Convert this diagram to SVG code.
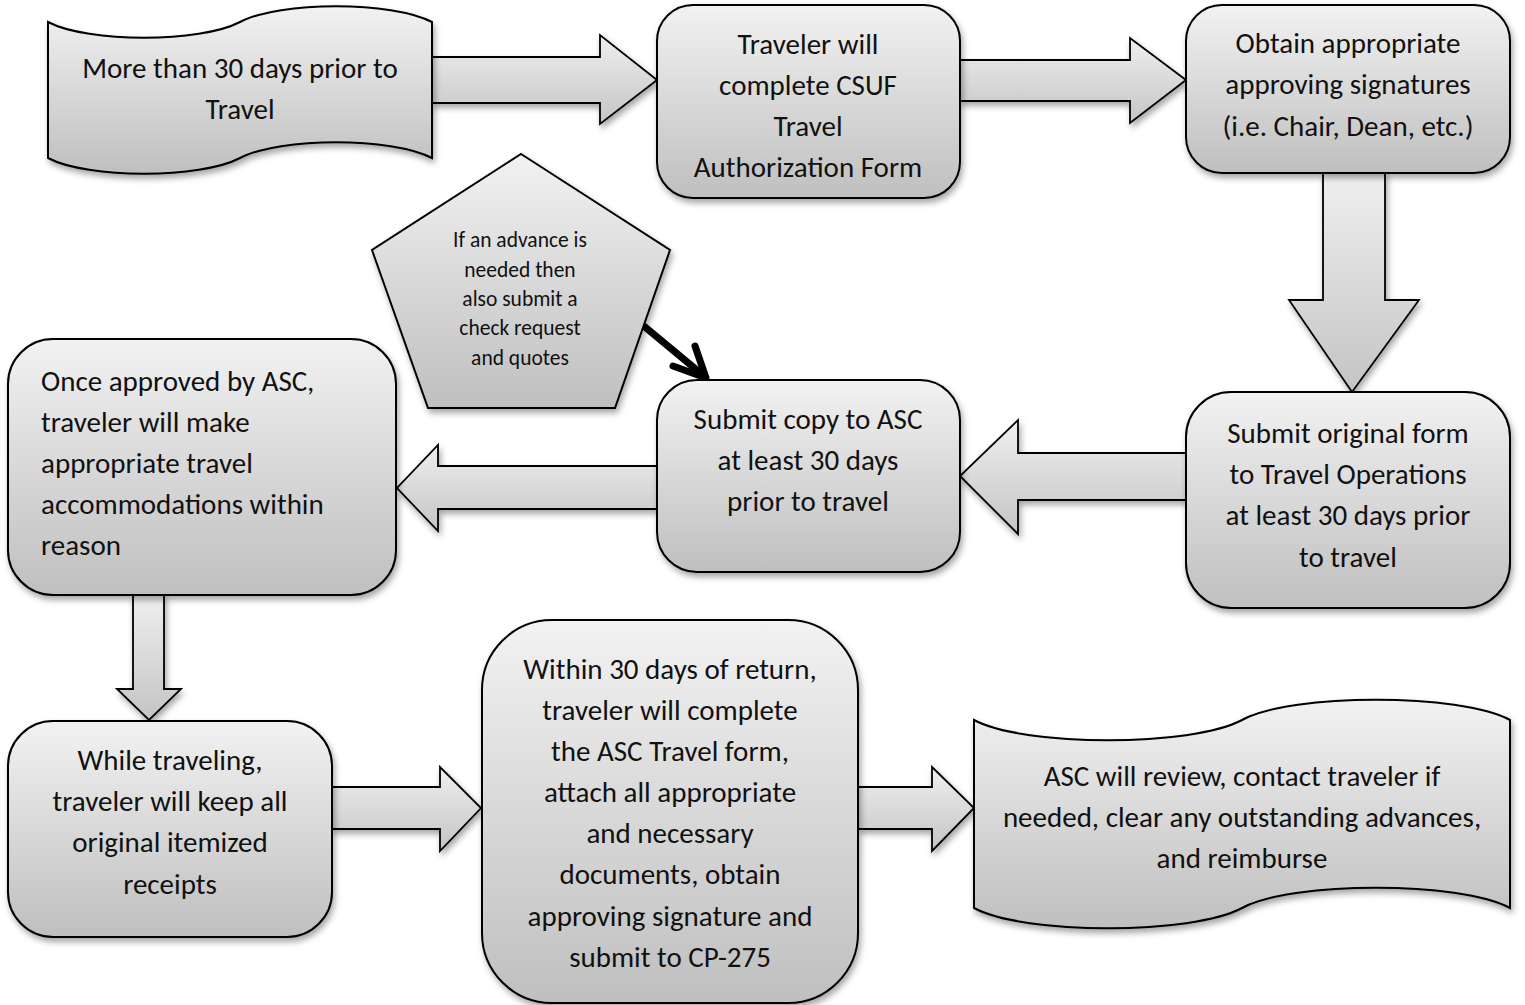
<svg xmlns="http://www.w3.org/2000/svg" width="1525" height="1005" viewBox="0 0 1525 1005">
<defs>
<linearGradient id="g" x1="0" y1="0" x2="0" y2="1">
<stop offset="0" stop-color="#f2f2f2"/>
<stop offset="1" stop-color="#bfbfbf"/>
</linearGradient>
<linearGradient id="gh" x1="0" y1="0" x2="0" y2="1">
<stop offset="0" stop-color="#efefef"/>
<stop offset="1" stop-color="#c4c4c4"/>
</linearGradient>
<linearGradient id="gv" x1="0" y1="0" x2="0" y2="1">
<stop offset="0" stop-color="#efefef"/>
<stop offset="1" stop-color="#c4c4c4"/>
</linearGradient>
<filter id="sh" x="-10%" y="-10%" width="130%" height="130%">
<feDropShadow dx="2" dy="4" stdDeviation="3" flood-color="#000" flood-opacity="0.35"/>
</filter>
<style>
.n{fill:url(#g);stroke:#000;stroke-width:2;filter:url(#sh)}
.a{fill:url(#gh);stroke:#000;stroke-width:1.8;stroke-linejoin:miter;filter:url(#sh)}
.t{font-family:"Carlito","Lato","Liberation Sans",sans-serif;font-size:29px;fill:#111;text-anchor:middle}
.l{text-anchor:start}
.s{font-size:21.5px}
</style>
</defs>
<rect width="1525" height="1005" fill="#fff"/>
<g id="connectors">
<path class="a" d="M432,57 L600,57 L600,35 L657,80 L600,124 L600,103 L432,103 Z"/>
<path class="a" d="M960,60 L1130,60 L1130,38 L1186,80 L1130,123 L1130,101 L960,101 Z"/>
<path class="a" style="fill:url(#gv)" d="M1323,173 L1385,173 L1385,300 L1419,300 L1352,392 L1289,300 L1323,300 Z"/>
<path class="a" d="M1186,453 L1018,453 L1018,420 L960,476 L1018,534 L1018,500 L1186,500 Z"/>
<path class="a" d="M657,466 L438,466 L438,445 L397,488 L438,531 L438,509 L657,509 Z"/>
<path class="a" style="fill:url(#gv)" d="M133,595 L164,595 L164,689 L181,689 L149,720 L117,689 L133,689 Z"/>
<path class="a" d="M332,787 L440,787 L440,767 L481,808 L440,851 L440,829 L332,829 Z"/>
<path class="a" d="M858,787 L932,787 L932,767 L974,808 L932,851 L932,829 L858,829 Z"/>
<g fill="none" stroke="#000" stroke-width="7" stroke-linecap="round" stroke-linejoin="round">
<path d="M645,327 L704,376"/>
<path d="M673,366 L706,378 L695,346"/>
</g>
</g>
<g id="n1">
<path class="n" d="M48,22 C88,43 200,43 240,22 C280,1 392,1 432,22 L432,158 C392,137 280,137 240,158 C200,179 88,179 48,158 Z"/>
<text class="t" x="240" y="78">More than 30 days prior to</text>
<text class="t" x="240" y="119">Travel</text>
</g>
<g id="n2">
<rect class="n" x="657" y="5" width="303" height="193" rx="36"/>
<text class="t" x="808" y="54">Traveler will</text>
<text class="t" x="808" y="95">complete CSUF</text>
<text class="t" x="808" y="136">Travel</text>
<text class="t" x="808" y="177">Authorization Form</text>
</g>
<g id="n3">
<rect class="n" x="1186" y="5" width="324" height="168" rx="36"/>
<text class="t" x="1348" y="53">Obtain appropriate</text>
<text class="t" x="1348" y="94">approving signatures</text>
<text class="t" x="1348" y="136">(i.e. Chair, Dean, etc.)</text>
</g>
<g id="n4">
<rect class="n" x="1186" y="392" width="324" height="216" rx="45"/>
<text class="t" x="1348" y="443">Submit original form</text>
<text class="t" x="1348" y="484">to Travel Operations</text>
<text class="t" x="1348" y="525">at least 30 days prior</text>
<text class="t" x="1348" y="567">to travel</text>
</g>
<g id="n5">
<rect class="n" x="657" y="380" width="303" height="192" rx="40"/>
<text class="t" x="808" y="429">Submit copy to ASC</text>
<text class="t" x="808" y="470">at least 30 days</text>
<text class="t" x="808" y="511">prior to travel</text>
</g>
<g id="n6">
<rect class="n" x="8" y="339" width="388" height="256" rx="45"/>
<text class="t l" x="41" y="391">Once approved by ASC,</text>
<text class="t l" x="41" y="432">traveler will make</text>
<text class="t l" x="41" y="473">appropriate travel</text>
<text class="t l" x="41" y="514">accommodations within</text>
<text class="t l" x="41" y="555">reason</text>
</g>
<g id="n_pent">
<path class="n" d="M521,154 L670,250 L615,408 L428,408 L372,250 Z"/>
<text class="t s" x="520" y="247">If an advance is</text>
<text class="t s" x="520" y="277">needed then</text>
<text class="t s" x="520" y="306">also submit a</text>
<text class="t s" x="520" y="335">check request</text>
<text class="t s" x="520" y="365">and quotes</text>
</g>
<g id="n7">
<rect class="n" x="8" y="721" width="324" height="216" rx="45"/>
<text class="t" x="170" y="770">While traveling,</text>
<text class="t" x="170" y="811">traveler will keep all</text>
<text class="t" x="170" y="852">original itemized</text>
<text class="t" x="170" y="894">receipts</text>
</g>
<g id="n8">
<rect class="n" x="482" y="620" width="376" height="383" rx="70"/>
<text class="t" x="670" y="679">Within 30 days of return,</text>
<text class="t" x="670" y="720">traveler will complete</text>
<text class="t" x="670" y="761">the ASC Travel form,</text>
<text class="t" x="670" y="802">attach all appropriate</text>
<text class="t" x="670" y="843">and necessary</text>
<text class="t" x="670" y="884">documents, obtain</text>
<text class="t" x="670" y="926">approving signature and</text>
<text class="t" x="670" y="967">submit to CP-275</text>
</g>
<g id="n9">
<path class="n" d="M974,720 C1024,747 1192,747 1242,720 C1292,693 1460,693 1510,720 L1510,908 C1460,881 1292,881 1242,908 C1192,935 1024,935 974,908 Z"/>
<text class="t" x="1242" y="786">ASC will review, contact traveler if</text>
<text class="t" x="1242" y="827">needed, clear any outstanding advances,</text>
<text class="t" x="1242" y="868">and reimburse</text>
</g>
</svg>
